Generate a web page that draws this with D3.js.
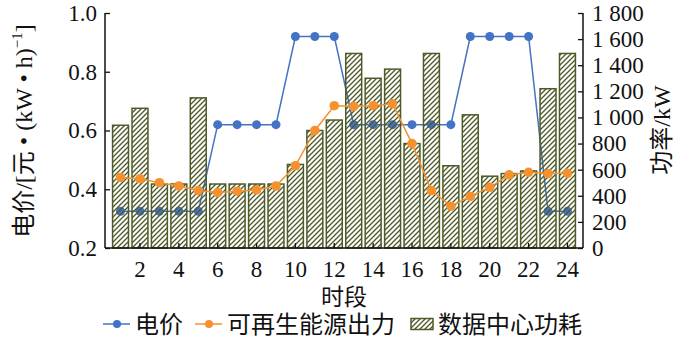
<!DOCTYPE html>
<meta charset="utf-8">
<head>
<style>
body { margin: 0; background: #fff; }
text { font-family: "Liberation Serif", "Noto Sans CJK SC", serif; fill: #111; }
</style>
</head>
<script src="https://d3js.org/d3.v7.min.js"></script>
<div id="chart"></div>
<script>
// hours 1..24
var hours = d3.range(1, 25);
// electricity price, yuan/(kW*h)  (left axis)
var price = [0.325, 0.325, 0.325, 0.325, 0.325, 0.62, 0.62, 0.62, 0.62, 0.92, 0.92, 0.92,
             0.62, 0.62, 0.62, 0.62, 0.62, 0.62, 0.92, 0.92, 0.92, 0.92, 0.325, 0.325];
// renewable output, kW (right axis)
var renew = [540, 530, 500, 475, 440, 425, 435, 445, 475, 630, 900, 1090,
             1085, 1090, 1105, 800, 440, 320, 395, 465, 560, 580, 570, 572];
// data center power, kW (right axis)
var power = [940, 1070, 490, 490, 1150, 490, 490, 490, 490, 640, 900, 980,
             1490, 1300, 1370, 800, 1490, 630, 1020, 550, 570, 590, 1220, 1490];
var leftTicks = [0.2, 0.4, 0.6, 0.8, 1.0];
var rightTicks = [0, 200, 400, 600, 800, 1000, 1200, 1400, 1600, 1800];
var xTicks = [2, 4, 6, 8, 10, 12, 14, 16, 18, 20, 22, 24];
var legendNames = ["电价", "可再生能源出力", "数据中心功耗"];

var W = 700, H = 337;
var x0 = 105, x1 = 583, yTop = 13, yBot = 248;
var blue = "#4472c4", orange = "#f5922f", olive = "#4d5a28";

var svg = d3.select("#chart").append("svg")
  .attr("width", W).attr("height", H);

// hatch pattern for the bars
var defs = svg.append("defs");
var p = 5;
var pat = defs.append("pattern")
  .attr("id", "hatch")
  .attr("patternUnits", "userSpaceOnUse")
  .attr("width", p).attr("height", p);
pat.append("path")
  .attr("d", "M-1,1 l2,-2 M0," + p + " l" + p + ",-" + p + " M" + (p - 1) + "," + (p + 1) + " l2,-2")
  .attr("stroke", olive).attr("stroke-width", 1.35);

var x = d3.scaleBand()
  .domain(hours)
  .range([x0, x1])
  .paddingInner(0.18)
  .paddingOuter(0.39);
var yL = d3.scaleLinear().domain([0.2, 1.0]).range([yBot, yTop]);
var yR = d3.scaleLinear().domain([0, 1800]).range([yBot, yTop]);
var cx = function(h) { return x(h) + x.bandwidth() / 2; };

// price line (drawn behind the bars)
var gPrice = svg.append("g");
gPrice.append("path")
  .datum(hours)
  .attr("fill", "none").attr("stroke", blue).attr("stroke-width", 1.5)
  .attr("d", d3.line().x(function(h) { return cx(h); }).y(function(h, i) { return yL(price[i]); }));
gPrice.selectAll("circle").data(hours).enter().append("circle")
  .attr("cx", function(h) { return cx(h); })
  .attr("cy", function(h, i) { return yL(price[i]); })
  .attr("r", 4.5).attr("fill", blue);

// bars
svg.append("g").selectAll("rect").data(hours).enter().append("rect")
  .attr("x", function(h) { return x(h); })
  .attr("y", function(h, i) { return yR(power[i]); })
  .attr("width", x.bandwidth())
  .attr("height", function(h, i) { return yBot - yR(power[i]); })
  .attr("fill", "url(#hatch)")
  .attr("stroke", olive).attr("stroke-width", 1.5);

// renewable line (on top)
var gRen = svg.append("g");
gRen.append("path")
  .datum(hours)
  .attr("fill", "none").attr("stroke", orange).attr("stroke-width", 1.5)
  .attr("d", d3.line().x(function(h) { return cx(h); }).y(function(h, i) { return yR(renew[i]); }));
gRen.selectAll("circle").data(hours).enter().append("circle")
  .attr("cx", function(h) { return cx(h); })
  .attr("cy", function(h, i) { return yR(renew[i]); })
  .attr("r", 4.8).attr("fill", orange);

// axes
var fs = 23;
var axL = svg.append("g").attr("transform", "translate(" + x0 + ",0)")
  .call(d3.axisRight(yL).tickValues(leftTicks).tickFormat(d3.format(".1f")).tickSize(5));
axL.selectAll("text").attr("x", -8).attr("text-anchor", "end");
var axR = svg.append("g").attr("transform", "translate(" + x1 + ",0)")
  .call(d3.axisLeft(yR).tickValues(rightTicks).tickSize(5)
    .tickFormat(function(d) { return d >= 1000 ? Math.floor(d / 1000) + " " + d3.format("03d")(d % 1000) : d; }));
axR.selectAll("text").attr("x", 9).attr("text-anchor", "start");
var axB = svg.append("g").attr("transform", "translate(0," + yBot + ")")
  .call(d3.axisTop(x).tickValues(xTicks).tickSize(5));
axB.selectAll("text").attr("y", 22).attr("dy", "0.32em");
axB.select(".domain").attr("d", "M" + x0 + ",0H" + x1);
[axL, axR, axB].forEach(function(a) {
  a.selectAll("text").style("font-size", fs + "px").attr("fill", "#111");
  a.selectAll("line").attr("stroke", "#111").attr("stroke-width", 1.3);
  a.select(".domain").attr("stroke", "#111").attr("stroke-width", 1.5);
});
axL.select(".domain").attr("d", "M0," + yTop + "V" + yBot);
axR.select(".domain").attr("d", "M0," + yTop + "V" + yBot);

// axis titles
var tl = svg.append("text")
  .attr("transform", "translate(32,131) rotate(-90)")
  .attr("text-anchor", "middle")
  .style("font-size", "24px");
tl.append("tspan").text("电价/[元 • (kW • h)");
tl.append("tspan").attr("dy", -10).style("font-size", "15px").text("−1");
tl.append("tspan").attr("dy", 10).text("]");

svg.append("text")
  .attr("transform", "translate(670,130) rotate(-90)")
  .attr("text-anchor", "middle")
  .style("font-size", "24px")
  .text("功率/kW");

svg.append("text")
  .attr("x", 344).attr("y", 305)
  .attr("text-anchor", "middle")
  .style("font-size", "23px")
  .text("时段");

// legend
var lfs = "24px";
var lg = svg.append("g").attr("transform", "translate(0,324)");
lg.append("line").attr("x1", 103).attr("x2", 130).attr("stroke", blue).attr("stroke-width", 1.5);
lg.append("circle").attr("cx", 117).attr("r", 4).attr("fill", blue);
lg.append("text").attr("x", 135).attr("dy", "0.36em").style("font-size", lfs).text(legendNames[0]);
lg.append("line").attr("x1", 195).attr("x2", 222).attr("stroke", orange).attr("stroke-width", 1.5);
lg.append("circle").attr("cx", 209).attr("r", 4).attr("fill", orange);
lg.append("text").attr("x", 227).attr("dy", "0.36em").style("font-size", lfs).text(legendNames[1]);
lg.append("rect").attr("x", 411).attr("y", -5.5).attr("width", 22).attr("height", 11)
  .attr("fill", "url(#hatch)").attr("stroke", olive).attr("stroke-width", 1.5);
lg.append("text").attr("x", 438).attr("dy", "0.36em").style("font-size", lfs).text(legendNames[2]);
</script>
